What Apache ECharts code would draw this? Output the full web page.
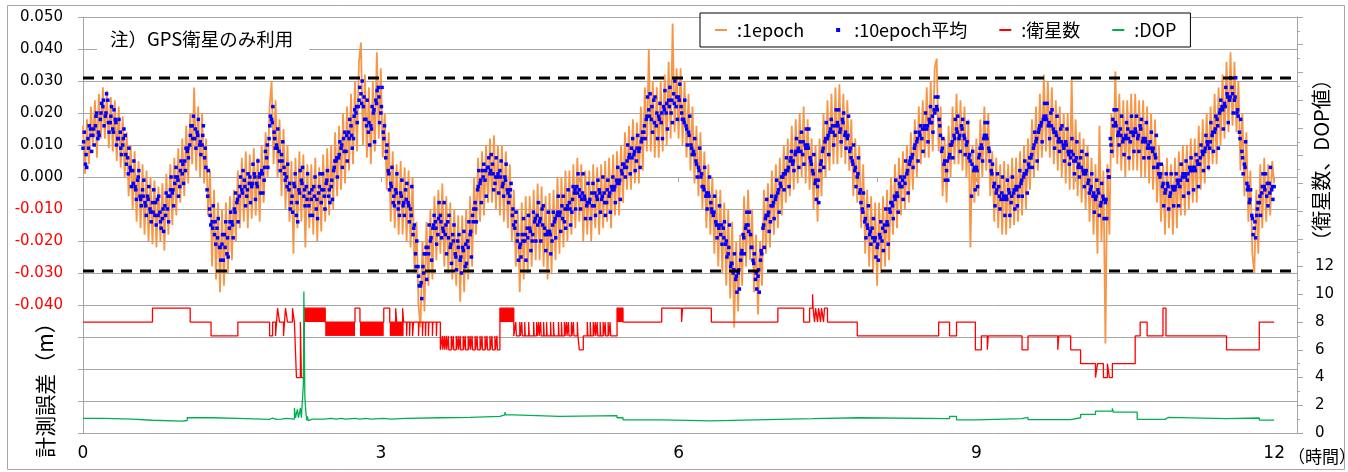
<!DOCTYPE html>
<html>
<head>
<meta charset="utf-8">
<title>計測誤差</title>
<script src="https://cdn.jsdelivr.net/npm/echarts@6/dist/echarts.min.js"></script>
<style>
  html, body { margin: 0; padding: 0; background: #fff; }
  #chart { width: 1348px; height: 472px; }
</style>
</head>
<body>
<div id="chart"></div>
<script>
// ---- measurement error, 1 epoch (mm), one sample every 0.02 h from 0 to 12 h ----
const epochStep = 0.02;
const epoch1 = [
  16, 1, 18, 4, 22,     10, 24, 6, 26, 12,     28, 12, 27, 9, 25,     8, 24, 5, 22, 3,
  19, 0, 14, -6, 10,    -10, 8, -14, 5, -16,   4, -18, 2, -20, 0,     -21, -1, -22, -3, -20,
  -2, -23, 1, -18, 4,   -15, 6, -12, 9, -8,
  12, -6, 16, -2, 20,   4, 28, 2, 22, 0,       20, -2, 12, -12, 2,    -28, -4, -32, -8, -36,
  -10, -34, -8, -30, -6, -26, -4, -20, 2, -16, 6, -14, 8, -16, 7,    -13, 9, -12, 6, -14,
  10, -8, 14, 0, 22,    30, 4, 24, 0, 18,
  -6, 15, -10, 10, -14, 5, -24, 6, -16, 8,    -14, 7, -22, 4, -16,   4, -18, 6, -20, 3,
  -17, 7, -14, 9, -12,  10, -10, 14, -6, 16,   -4, 20, -2, 22, 2,     26, 4, 30, 8, 36,
  42, 10, 32, 6, 28,    4, 30, 8, 39, 12,
  34, 6, 20, -4, 14,    -14, 8, -16, 4, -18,   5, -18, 3, -20, 2,     -22, 0, -30, -14, -40,
  -47, -20, -42, -14, -34, -10, -32, -6, -26, -4, -24, -2, -28, -6, -30, -8, -32, -10, -34, -12,
  -39, -12, -36, -10, -32, -6, -28, 0, -18, 6,
  -14, 8, -12, 10, -8,  12, -8, 13, -10, 10,   -12, 10, -14, 8, -16,  4, -20, -4, -28, -10,
  -36, -8, -32, -6, -30, -6, -28, -4, -26, -2, -26, -3, -28, -6, -32, -5, -30, -4, -26, 0,
  -24, 0, -22, 2, -20,  2, -18, 4, -16, 6,
  -14, 4, -20, 2, -18,  2, -20, 4, -16, 3,     -18, 4, -16, 5, -14,   6, -16, 7, -12, 8,
  -12, 10, -8, 14, -4,  16, -4, 18, -2, 17,    -2, 22, 2, 28, 8,      40, 8, 30, 6, 28,
  6, 30, 8, 32, 10,     36, 12, 48, 14, 34,
  12, 34, 10, 30, 6,    26, 2, 22, -2, 16,     -6, 14, -10, 8, -16,   4, -18, 0, -24, -4,
  -28, -4, -30, -8, -34, -10, -38, -14, -47, -20, -42, -18, -34, -6, -28, -4, -26, -10, -36, -18,
  -43, -20, -34, -4, -24, -2, -22, 2, -18, 4,
  -16, 6, -12, 10, -8,  12, -6, 16, -4, 18,    -2, 20, 0, 22, -2,     18, -4, 12, -10, 10,
  -14, 12, -6, 20, 0,   24, 2, 26, 4, 28,      4, 29, 6, 26, 4,       24, 2, 18, -6, 12,
  -8, 10, -16, 4, -24,  -4, -28, -6, -30, -8,
  -34, -8, -30, -6, -28, -4, -26, 0, -18, 4,   -16, 6, -12, 8, -10,   10, -8, 14, -4, 18,
  0, 22, 4, 24, 6,      28, 6, 30, 8, 34,      37, 8, 22, -6, 12,     -8, 16, 0, 22, 4,
  26, 4, 24, 2, 22,     0, 18, -22, 10, -8,
  12, -6, 18, 0, 22,    2, 20, -6, 8, -14,     6, -16, 4, -18, 5,     -18, 4, -16, 6, -15,
  6, -14, 8, -12, 10,   -10, 12, -4, 18, 0,    22, 2, 26, 6, 32,      8, 30, 6, 28, 4,
  24, 2, 22, 0, 20,     -2, 20, -4, 31, -4,
  18, -6, 14, -8, 12,   -10, 10, -14, 6, -18,  4, -24, 16, -20, 2,    -52, 4, -18, 20, 6,
  33, 4, 26, 2, 24,     0, 24, 2, 26, 2,       26, 2, 24, 0, 24,      0, 22, -2, 20, -4,
  18, -8, 10, -14, 4,   -18, 6, -16, 4, -18,
  6, -16, 8, -12, 10,   -12, 10, -10, 12, -8,  12, -8, 16, -4, 18,    -2, 20, 2, 22, 4,
  26, 4, 28, 10, 32,    12, 36, 14, 39, 16,    36, 14, 30, 2, 20,     -6, 14, -14, 2, -24,
  -30, -4, -24, 4, -16, 6, -14, 4, -12, 5,
  -2
];

// ---- 10 epoch average (mm), three interleaved sample sets, each one value per 0.025 h ----
const avgStep = 0.025;
const avg10 = [
  9, 4, 12, 15,   13, 16, 12, 18,   22, 19, 24, 17,   15, 18, 12, 14,   10, 13, 6, 3,
  2, -3, -1, -6,  -4, -8, -6, -10,  -8, -12, -7, -11, -13, -9, -10, -6, -5, -2, 0, -3,
  1, 5, 8, 10,    16, 12, 14, 10,   10, 6, -4, -10,   -14, -18, -16, -22, -21, -18, -24, -16,
  -14, -10, -8, -6, -4, -1, -6, -2, -3, 1, -2, 0,     2, -1, 6, 12,     18, 14, 10, 8,
  7, 3, 0, -4,    -8, -2, -12, -4,  -1, -6, -3, -9,   -7, -3, -10, -5,  -8, -4, -2, -6,
  -3, 2, 5, 6,    9, 12, 8, 14,     16, 12, 20, 22,   26, 22, 18, 14,   16, 20, 24, 28,
  20, 14, 6, 2,   -2, -8, -4, -10,  -5, -9, -4, -8,   -10, -18, -24, -28, -34, -28, -24, -22,
  -20, -16, -14, -18, -12, -16, -18, -14, -22, -18, -24, -20, -26, -22, -28, -20, -18, -12, -8, -4,
  -2, 2, -1, 3,   1, 4, -2, 0,      2, -3, 0, -4,     -6, -12, -16, -20, -22, -18, -20, -16,
  -16, -20, -14, -12, -14, -10, -16, -18, -17, -20, -14, -12, -12, -9, -14, -10, -8, -11, -5, -3,
  -4, -7, -6, -9, -8, -5, -9, -6,   -4, -7, -5, -8,   -6, -3, -4, -1,   -2, 2, 4, 3,
  6, 9, 7, 5,     8, 11, 14, 18,    21, 18, 24, 16,   19, 17, 22, 20,   24, 20, 26, 22,
  25, 22, 18, 16, 14, 10, 8, 5,     3, 0, -3, -6,     -5, -8, -12, -14, -15, -18, -16, -21,
  -24, -28, -30, -32, -30, -26, -18, -16, -15, -18, -26, -32, -31, -26, -16, -13, -12, -14, -9, -7,
  -5, -2, 0, 1,   2, 5, 4, 7,       8, 11, 7, 10,     10, 6, 2, -2,     -3, 2, 8, 11,
  12, 14, 16, 13, 17, 14, 18, 13,   12, 8, 5, 2,      0, -5, -10, -14,  -15, -18, -16, -20,
  -22, -18, -20, -15, -14, -10, -8, -6, -5, -2, -3, 0, 1, 4, 6, 9,      11, 14, 12, 16,
  15, 18, 17, 21, 22, 18, 8, 4,     2, 6, 10, 13,     15, 12, 16, 13,   10, 6, -6, 2,
  3, 6, 10, 12,   13, 9, 2, -3,     -5, -3, -7, -6,   -6, -4, -8, -5,   -3, -6, -2, 0,
  1, 4, 6, 9,     11, 14, 16, 18,   19, 16, 20, 15,   14, 11, 15, 10,   11, 8, 6, 7,
  5, 3, 6, 2,     1, -2, -4, -6,    -7, -4, -9, -6,   -8, 2, 12, 18,    17, 13, 15, 11,
  12, 15, 11, 14, 15, 12, 16, 11,   12, 9, 11, 8,     7, 3, 0, -3,      -5, -2, -6, -3,
  -4, -1, -3, 0,  1, -1, 3, 2,      3, 5, 4, 8,       8, 11, 9, 13,     14, 18, 20, 22,
  23, 26, 24, 28, 24, 20, 14, 8,    4, -2, -8, -12,   -16, -12, -8, -5, -3, -6, -2, -4,
  -3
];
const avg10Mid = [
  14, 3, 16, 8,   10, 20, 13, 23,   16, 26, 14, 22,   21, 10, 18, 7,    15, 4, 9, -3,
  5, -7, 2, -9,   -1, -12, -3, -14, -4, -15, -6, -16, -17, -5, -14, 0,  -9, 3, -6, 5,
  -2, 9, 6, 16,   19, 9, 18, 7,     16, 3, 2, -15,    -9, -21, -13, -26, -26, -14, -25, -11,
  -19, -5, -14, 0, 2, -9, 1, -8,    4, -7, 5, -5,     -5, 8, 3, 19,     22, 9, 15, 2,
  11, -1, 4, -10, -11, 1, -14, 2,   3, -9, 1, -12,    -12, 0, -13, 1,   1, -10, 2, -8,
  -7, 5, 0, 11,   3, 14, 5, 18,     9, 21, 17, 28,    30, 18, 24, 10,   22, 11, 27, 17,
  28, 16, 10, -4, 3, -9, 1, -12,    -1, -12, -2, -14, -3, -15, -20, -34, -38, -24, -32, -15,
  -26, -12, -21, -8, -19, -8, -24, -12, -27, -15, -29, -18, -30, -17, -27, -14, -25, -10, -14, 2,
  -8, 4, -6, 6,   7, -4, 6, -5,     5, -6, 4, -8,     -2, -15, -11, -26, -25, -13, -26, -12,
  -23, -11, -20, -8, -20, -9, -23, -11, -24, -11, -19, -6, -17, -6, -16, -4, -15, -3, -10, 1,
  -10, 1, -13, -2, -13, -2, -12, -1, -11, 0, -12, -1, -11, 0, -8, 3,  -7, 4, 0, 10,
  1, 12, 2, 13,   3, 14, 12, 25,    26, 14, 25, 12,   23, 12, 27, 15,   28, 17, 30, 18,
  29, 18, 24, 10, 19, 7, 12, 0,     9, -3, 3, -10,    0, -11, -6, -19,  -9, -21, -14, -25,
  -15, -27, -24, -36, -35, -23, -24, -11, -11, -22, -24, -35, -36, -24, -22, -7, -17, -6, -13, -1,
  -11, 0, -4, 6,  -3, 8, 2, 12,     3, 14, 4, 15,     15, 4, 7, -7,     -8, 5, 3, 17,
  7, 18, 10, 21,  21, 11, 20, 9,    19, 6, 10, -3,    6, -8, -5, -19,   -9, -21, -13, -25,
  -26, -14, -23, -10, -21, -8, -13, -1, -11, 0, -7, 5, -5, 6, 3, 14,    5, 16, 8, 20,
  11, 22, 14, 25, 25, 13, 12, -1,   -1, 10, 6, 18,    19, 8, 18, 7,     17, 5, 8, -4,
  -3, 9, 5, 17,   17, 5, 4, -9,     1, -10, 0, -12,   -1, -12, 0, -10,  -9, 2, -6, 5,
  -5, 6, 3, 14,   5, 16, 11, 23,    23, 12, 21, 9,    19, 8, 16, 5,     15, 4, 12, 1,
  11, 0, 8, -3,   7, -5, 1, -11,    -1, -12, -2, -13, -13, 0, 8, 21,    21, 10, 19, 7,
  17, 6, 19, 8,   19, 8, 18, 6,     17, 6, 14, 3,     13, 1, 4, -9,     1, -10, 1, -9,
  1, -9, 4, -6,   5, -5, 6, -4,     7, -3, 10, 2,     13, 3, 17, 8,     19, 9, 24, 15,
  28, 17, 31, 20, 31, 19, 18, 1,    11, -3, -4, -18,  -19, -8, -12, 1,  1, -9, 3, -7
];
const avg10Late = [
  11, 7, 9, 13,   15, 19, 14, 20,   24, 20, 17, 19,   14, 17, 12, 9,    12, 7, 1, 2,
  -2, -4, 0, -7,  -6, -9, -7, -11,  -11, -8, -12, -14, -10, -12, -6, -4, -4, 0, -1, 2,
  4, 2, 9, 13,    12, 15, 13, 11,   13, 9, -6, -12,   -16, -14, -19, -22, -18, -22, -19, -14,
  -15, -11, -7, -3, -5, -3, -4, 0,  -2, 0, -3, 1,     1, 3, 10, 16,     17, 12, 9, 5,
  5, 1, -3, -2,   -6, -3, -8, -5,   -2, -4, -7, -5,   -4, -6, -7, -3,   -4, -6, -1, -4,
  -1, 3, 6, 7,    10, 8, 13, 12,    13, 19, 22, 24,   23, 25, 16, 17,   15, 21, 23, 25,
  22, 12, 8, 1,   -3, -6, -5, -8,   -6, -8, -7, -9,   -12, -16, -28, -31, -33, -30, -22, -24,
  -19, -15, -16, -13, -14, -17, -15, -19, -21, -20, -25, -22, -25, -23, -21, -22, -17, -14, -10, -3,
  -1, 0, 2, 3,    2, 1, 0, 1,       0, -2, -1, -5,    -4, -10, -14, -18, -21, -20, -18, -19,
  -17, -18, -13, -15, -13, -15, -18, -17, -18, -15, -13, -11, -11, -13, -10, -9, -10, -7, -4, -5,
  -6, -5, -7, -8, -7, -9, -5, -7,   -5, -6, -8, -4,   -5, -4, -3, -2,   -1, 1, 3, 5,
  7, 6, 8, 9,     9, 12, 16, 19,    19, 22, 17, 20,   18, 20, 21, 23,   22, 24, 23, 25,
  24, 20, 17, 15, 13, 9, 7, 4,      2, 1, -4, -5,     -6, -10, -11, -15, -16, -15, -19, -20,
  -22, -27, -29, -31, -29, -24, -19, -15, -17, -22, -27, -30, -29, -23, -15, -12, -11, -9, -8, -6,
  -4, -3, 1, 2,   3, 6, 5, 8,       9, 8, 11, 9,      9, 5, 1, -1,      -1, 4, 9, 12,
  13, 15, 14, 16, 16, 15, 17, 14,   13, 9, 4, 3,      1, -4, -11, -13,  -16, -17, -19, -19,
  -21, -19, -16, -17, -15, -11, -9, -7, -6, -3, -1, -2, 2, 5, 7, 10,    12, 13, 15, 15,
  16, 17, 19, 20, 21, 16, 9, 5,     5, 7, 11, 12,     14, 13, 15, 12,   11, 7, 4, 3,
  2, 7, 9, 13,    12, 8, 1, -2,     -4, -6, -5, -7,   -7, -5, -6, -4,   -4, -3, -1, 1,
  2, 3, 7, 10,    12, 15, 17, 19,   18, 17, 16, 14,   13, 12, 11, 9,    10, 7, 8, 5,
  6, 4, 3, 1,     2, -1, -3, -5,    -6, -5, -8, -7,   -7, 0, 10, 16,    16, 14, 13, 12,
  13, 12, 14, 13, 14, 13, 15, 12,   11, 10, 9, 9,     6, 4, 1, -2,      -4, -3, -5, -4,
  -3, -2, -1, 1,  0, 1, 2, 3,       2, 4, 6, 7,       9, 10, 11, 14,    15, 16, 21, 21,
  22, 25, 25, 26, 25, 21, 12, 6,    3, -4, -7, -13,   -14, -10, -6, -3, -4, -2, -5, -3
];

// ---- number of satellites: [hour, count] change points ----
const satSteps = [
  [0, 8], [0.70, 9], [1.08, 8], [1.29, 7], [1.56, 8],
  [1.88, 7], [1.91, 8], [1.94, 7], [1.96, 9], [1.98, 8], [2.02, 7], [2.04, 9], [2.06, 8],
  [2.11, 9], [2.13, 8], [2.15, 4], [2.19, 8], [2.20, 4], [2.23, 9],
  [2.44, 8], [2.74, 9], [2.79, 8], [3.03, 9], [3.09, 8],
  [3.15, 9], [3.16, 8], [3.22, 9], [3.23, 8],
  [3.26, 7], [3.265, 8], [3.29, 7], [3.295, 8], [3.32, 7], [3.33, 8], [3.38, 7], [3.385, 8],
  [3.42, 7], [3.425, 8], [3.45, 7], [3.455, 8], [3.48, 7], [3.485, 8], [3.52, 7], [3.525, 8],
  [3.56, 7], [3.565, 8], [3.60, 6],
  [3.62, 7], [3.625, 6], [3.64, 7], [3.645, 6], [3.66, 7], [3.665, 6], [3.68, 7], [3.685, 6],
  [3.71, 7], [3.715, 6], [3.73, 7], [3.735, 6], [3.76, 7], [3.765, 6], [3.78, 7], [3.785, 6],
  [3.80, 7], [3.805, 6], [3.83, 7], [3.835, 6], [3.85, 7], [3.855, 6], [3.88, 7], [3.885, 6],
  [3.90, 7], [3.905, 6], [3.92, 7], [3.925, 6], [3.95, 7], [3.955, 6], [3.97, 7], [3.975, 6],
  [4.00, 7], [4.005, 6], [4.02, 7], [4.025, 6], [4.05, 7], [4.055, 6], [4.07, 7], [4.075, 6],
  [4.10, 7], [4.105, 6], [4.12, 7], [4.125, 6], [4.15, 7], [4.155, 6], [4.17, 7], [4.175, 6],
  [4.20, 9], [4.34, 7],
  [4.36, 8], [4.366, 7], [4.40, 8], [4.406, 7], [4.42, 8], [4.426, 7], [4.45, 8], [4.456, 7],
  [4.49, 8], [4.496, 7], [4.54, 8], [4.546, 7], [4.57, 8], [4.576, 7], [4.59, 8], [4.596, 7],
  [4.61, 8], [4.616, 7], [4.64, 8], [4.646, 7], [4.67, 8], [4.676, 7], [4.71, 8], [4.716, 7],
  [4.74, 8], [4.746, 7], [4.79, 8], [4.796, 7], [4.82, 8], [4.826, 7], [4.85, 8], [4.856, 7],
  [4.87, 8], [4.876, 7], [4.89, 8], [4.896, 7], [4.92, 8], [4.926, 7], [4.94, 8], [4.946, 7],
  [4.98, 8], [4.986, 7], [5.00, 6], [5.04, 7],
  [5.08, 8], [5.086, 7], [5.11, 8], [5.116, 7], [5.14, 8], [5.146, 7], [5.16, 8], [5.166, 7],
  [5.18, 8], [5.186, 7], [5.21, 8], [5.216, 7], [5.24, 8], [5.246, 7], [5.26, 8], [5.266, 7],
  [5.29, 8], [5.296, 7], [5.31, 8], [5.316, 7],
  [5.38, 9], [5.44, 8], [5.83, 9], [6.03, 8], [6.04, 9], [6.33, 8],
  [7.00, 9], [7.26, 8], [7.32, 9], [7.35, 10], [7.355, 9], [7.37, 8], [7.38, 9], [7.40, 8],
  [7.41, 9], [7.43, 8], [7.44, 9], [7.46, 8], [7.47, 9], [7.50, 8],
  [7.80, 7], [8.62, 8], [8.73, 7], [8.80, 8], [8.99, 6], [9.05, 7], [9.11, 6], [9.12, 7],
  [9.46, 6], [9.52, 7], [9.82, 6], [9.83, 7], [9.95, 6], [10.05, 5],
  [10.20, 4], [10.22, 5], [10.28, 4], [10.32, 5], [10.34, 4], [10.37, 5],
  [10.60, 7], [10.65, 8], [10.72, 7], [10.88, 9], [10.91, 7], [11.52, 6], [11.85, 8], [12.0, 8]
];
// spans where the count flickers between two values every epoch: [start h, end h, low, high]
const satFlicker = [
  [2.23, 2.44, 8, 9],
  [2.44, 2.74, 7, 8],
  [2.79, 3.03, 7, 8],
  [3.09, 3.23, 7, 8],
  [4.20, 4.34, 8, 9],
  [5.38, 5.44, 8, 9]
];

// ---- DOP: [hour, value] change points ----
const dopSteps = [
  [0, 1.05], [0.21, 1.0], [0.5, 0.92], [0.7, 0.86], [1.0, 0.9], [1.05, 1.1], [1.3, 1.05],
  [1.56, 0.98], [1.88, 1.0], [1.9, 1.08], [1.91, 0.98], [1.95, 1.1], [1.96, 1.0],
  [2.0, 1.05], [2.05, 1.0], [2.13, 1.8], [2.14, 1.1], [2.16, 1.7], [2.17, 1.1], [2.19, 1.8],
  [2.2, 1.1], [2.22, 3.5], [2.225, 10.2], [2.235, 2.6], [2.245, 1.5], [2.255, 0.9],
  [2.26, 1.2], [2.27, 0.9], [2.29, 1.0], [2.31, 0.88], [2.33, 1.0], [2.35, 0.88],
  [2.37, 1.0], [2.39, 0.88], [2.41, 1.0], [2.43, 0.9], [2.45, 1.05], [2.5, 1.0],
  [2.55, 1.05], [2.6, 1.0], [2.65, 1.05], [2.74, 1.0], [2.79, 1.05], [2.85, 1.0],
  [2.9, 1.05], [3.03, 1.0], [3.1, 1.05], [3.25, 1.1], [3.6, 1.12], [3.9, 1.2],
  [4.2, 1.3], [4.25, 1.5], [4.26, 1.3], [4.34, 1.2], [4.8, 1.22], [5.0, 1.25],
  [5.38, 1.1], [5.44, 0.95], [5.83, 0.87], [6.33, 0.98], [7.0, 1.03], [7.35, 1.1],
  [7.82, 1.03], [8.73, 1.2], [8.8, 0.95], [9.0, 1.03], [9.46, 1.12], [9.52, 0.97],
  [9.95, 1.1], [10.05, 1.35], [10.2, 1.58], [10.37, 1.78], [10.38, 1.5], [10.62, 0.98],
  [10.9, 1.12], [10.93, 1.03], [11.52, 1.08], [11.85, 0.93], [12.0, 0.93]
];

// ---- reference limits (m) ----
const limitLines = [0.0309, -0.0294];

// ---- axis settings ----
const errAxis = { min: -0.08, max: 0.05, step: 0.01, lowestLabel: -0.04 };
const countAxis = { min: 0, max: 30, step: 2, highestLabel: 12 };
const hourAxis = { min: 0, max: 12.23, step: 1, labelEvery: 3 };

// ---- build series data ----
const epochData = epoch1.map((v, i) => [i * epochStep, v / 1000]);
const avgData = avg10.map((v, i) => [i * avgStep, v / 1000])
  .concat(avg10Mid.map((v, i) => [i * avgStep + avgStep / 2, v / 1000]))
  .concat(avg10Late.map((v, i) => [i * avgStep + avgStep / 4, v / 1000]));

const chart = echarts.init(document.getElementById('chart'));
const JP = '"Noto Sans CJK JP", "Noto Sans", sans-serif';
const NUM = '"DejaVu Sans", Verdana, sans-serif';
const gray = '#a6a6a6';
const linePath = 'path://M0,0H12V2H0Z';

const limitSeries = limitLines.map((v, i) => ({
  name: 'limit' + i, type: 'line', yAxisIndex: 0, z: 5, silent: true,
  symbol: 'none',
  data: [[hourAxis.min, v], [hourAxis.max, v]],
  lineStyle: { color: '#000', type: [11, 8], width: 3 }
}));

chart.setOption({
  animation: false,
  backgroundColor: '#fff',
  grid: { left: 83, right: 51, top: 17, bottom: 39, outerBoundsMode: 'none' },
  legend: {
    left: 700, top: 13,
    padding: [8, 14, 8, 15],
    borderColor: '#000', borderWidth: 1, backgroundColor: '#fff',
    itemWidth: 12, itemHeight: 4, itemGap: 32,
    selectedMode: false,
    textStyle: { fontFamily: JP, fontSize: 18, color: '#000', padding: [0, 0, 0, 5] },
    data: [
      { name: ':1epoch', icon: linePath },
      { name: ':10epoch平均', icon: 'path://M0,0H4V4H0Z' },
      { name: ':衛星数', icon: linePath },
      { name: ':DOP', icon: linePath }
    ]
  },
  xAxis: {
    type: 'value', min: hourAxis.min, max: hourAxis.max, interval: hourAxis.step,
    axisLine: { show: true, lineStyle: { color: gray, width: 1 } },
    axisTick: { show: true, length: 5, lineStyle: { color: gray } },
    splitLine: { show: false },
    axisLabel: {
      margin: 12, fontFamily: NUM, fontSize: 17, color: '#000',
      formatter: (v) => {
        const r = Math.round(v);
        return (Math.abs(v - r) < 1e-6 && r % hourAxis.labelEvery === 0) ? String(r) : '';
      }
    }
  },
  yAxis: [
    {
      type: 'value', min: errAxis.min, max: errAxis.max, interval: errAxis.step,
      axisLine: { show: true, lineStyle: { color: gray } },
      axisTick: { show: true, length: 5, lineStyle: { color: gray } },
      splitLine: { show: true, lineStyle: { color: gray, width: 1 } },
      axisLabel: {
        margin: 20, fontFamily: NUM, fontSize: 15,
        formatter: (v) => (v >= errAxis.lowestLabel - 1e-6 ? v.toFixed(3) : ''),
        color: (v) => (Number(v) < -1e-6 ? '#ff0000' : '#000000')
      }
    },
    {
      type: 'value', position: 'right', min: countAxis.min, max: countAxis.max, interval: countAxis.step,
      axisLine: { show: true, lineStyle: { color: gray } },
      axisTick: { show: true, length: 6, lineStyle: { color: gray } },
      minorTick: { show: true, splitNumber: 2, length: 3, lineStyle: { color: gray } },
      splitLine: { show: false },
      minorSplitLine: { show: false },
      axisLabel: {
        margin: 18, fontFamily: NUM, fontSize: 15, color: '#000',
        formatter: (v) => (v <= countAxis.highestLabel ? String(v) : '')
      }
    }
  ],
  series: [
    {
      name: ':1epoch', type: 'line', yAxisIndex: 0, data: epochData,
      symbol: 'none', z: 2,
      lineStyle: { color: '#F79646', width: 1.8 }, itemStyle: { color: '#F79646' }
    },
    {
      name: ':10epoch平均', type: 'scatter', yAxisIndex: 0, data: avgData,
      symbol: 'rect', symbolSize: 3.5, z: 3, large: false,
      itemStyle: { color: '#0000FF', opacity: 1 }
    },
    {
      name: ':衛星数', type: 'line', yAxisIndex: 1, data: satSteps, step: 'end',
      symbol: 'none', z: 4,
      lineStyle: { color: '#FF0000', width: 1.3 }, itemStyle: { color: '#FF0000' }
    },
    {
      name: ':衛星数', type: 'custom', yAxisIndex: 1, data: satFlicker, z: 4,
      encode: { x: [0, 1], y: [2, 3] },
      renderItem: (params, api) => {
        const a = api.coord([api.value(0), api.value(3)]);
        const b = api.coord([api.value(1), api.value(2)]);
        return {
          type: 'rect',
          shape: { x: a[0], y: a[1], width: b[0] - a[0], height: b[1] - a[1] },
          style: { fill: '#FF0000' }
        };
      }
    },
    {
      name: ':DOP', type: 'line', yAxisIndex: 1, data: dopSteps, step: 'end',
      symbol: 'none', z: 4,
      lineStyle: { color: '#00B050', width: 1.3 }, itemStyle: { color: '#00B050' }
    }
  ].concat(limitSeries),
  graphic: [
    {
      type: 'rect', left: 5, top: 3, z: -10, silent: true,
      shape: { width: 1337, height: 464 },
      style: { fill: 'none', stroke: gray, lineWidth: 1 }
    },
    {
      type: 'text', left: 97, top: 26, z: 10,
      style: {
        text: '注）GPS衛星のみ利用', font: '18.5px ' + JP, fill: '#000',
        backgroundColor: '#fff', padding: [4, 16, 5, 13]
      }
    },
    {
      type: 'text', x: 45, y: 385, rotation: Math.PI / 2, z: 10,
      style: { text: '計測誤差（m）', font: '21px ' + JP, fill: '#000', align: 'center', verticalAlign: 'middle' }
    },
    {
      type: 'text', x: 1321, y: 160, rotation: Math.PI / 2, z: 10,
      style: { text: '（衛星数、DOP値）', font: '20px ' + JP, fill: '#000', align: 'center', verticalAlign: 'middle' }
    },
    {
      type: 'text', x: 1288, y: 457, z: 10,
      style: { text: '（時間）', font: '17px ' + JP, fill: '#000', align: 'left', verticalAlign: 'middle' }
    }
  ]
});
</script>
</body>
</html>
